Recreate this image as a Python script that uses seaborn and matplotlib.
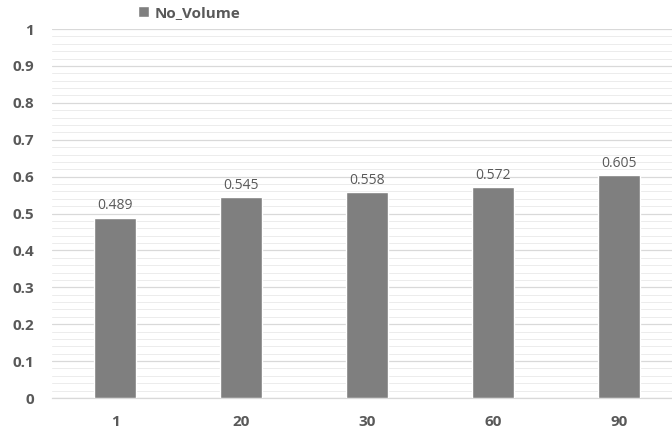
import matplotlib
matplotlib.use("Agg")
import matplotlib.pyplot as plt
import numpy as np
import pandas as pd
import seaborn as sns
from matplotlib.ticker import MultipleLocator

categories = ["1", "20", "30", "60", "90"]
values = [0.489, 0.545, 0.558, 0.572, 0.605]
series_name = "No_Volume"

BAR_COLOR = "#7f7f7f"
TEXT_COLOR = "#595959"


def main() -> None:
    sns.set_style("white")
    plt.rcParams["font.family"] = ["Open Sans", "DejaVu Sans"]

    df = pd.DataFrame({"window": categories, "value": values, "series": series_name})

    fig = plt.figure(figsize=(6.72, 4.30), dpi=100)
    ax = fig.add_axes([0.0774, 0.0744, 0.9375, 0.858])

    sns.barplot(data=df, x="window", y="value", hue="series", palette=[BAR_COLOR],
                width=0.33, saturation=1, ax=ax, zorder=3)

    ax.set_ylim(0, 1)
    ax.set_xlim(-0.5, len(categories) - 0.5)
    ax.yaxis.set_major_locator(MultipleLocator(0.1))
    ax.yaxis.set_minor_locator(MultipleLocator(0.02))
    ax.grid(axis="y", which="major", color="#d9d9d9", linewidth=0.9, zorder=0)
    ax.grid(axis="y", which="minor", color="#ececec", linewidth=0.7, zorder=0)
    ax.set_axisbelow(True)

    ax.set_yticks(np.arange(0, 1.01, 0.1))
    ax.set_yticklabels(["0"] + [f"{v:.1f}" for v in np.arange(0.1, 0.95, 0.1)] + ["1"])
    ax.tick_params(axis="y", which="both", length=0, pad=13, labelsize=11, labelcolor=TEXT_COLOR)

    # category labels centered, tick marks between categories
    ax.set_xticks(range(len(categories)))
    ax.set_xticklabels(categories)
    ax.set_xticks(np.arange(-0.5, len(categories), 1), minor=True)
    ax.tick_params(axis="x", which="major", length=0, pad=12, labelsize=11, labelcolor=TEXT_COLOR)
    ax.tick_params(axis="x", which="minor", length=4, color="#d9d9d9", direction="out")
    for lbl in ax.get_xticklabels() + ax.get_yticklabels():
        lbl.set_fontweight("bold")

    for s in ["top", "right", "left"]:
        ax.spines[s].set_visible(False)
    ax.spines["bottom"].set_color("#d9d9d9")
    ax.spines["bottom"].set_linewidth(0.9)

    for container in ax.containers:
        ax.bar_label(container, fmt="%.3f", padding=3, fontsize=10, color=TEXT_COLOR)

    ax.set_xlabel("")
    ax.set_ylabel("")

    leg = ax.legend(loc="upper left", bbox_to_anchor=(0.115, 1.1), frameon=False,
                    handlelength=0.7, handleheight=0.7, handletextpad=0.35,
                    prop={"weight": "bold", "size": 11})
    for t in leg.get_texts():
        t.set_color(TEXT_COLOR)

    fig.savefig("out.png", dpi=100)
    plt.close(fig)


if __name__ == "__main__":
    main()
